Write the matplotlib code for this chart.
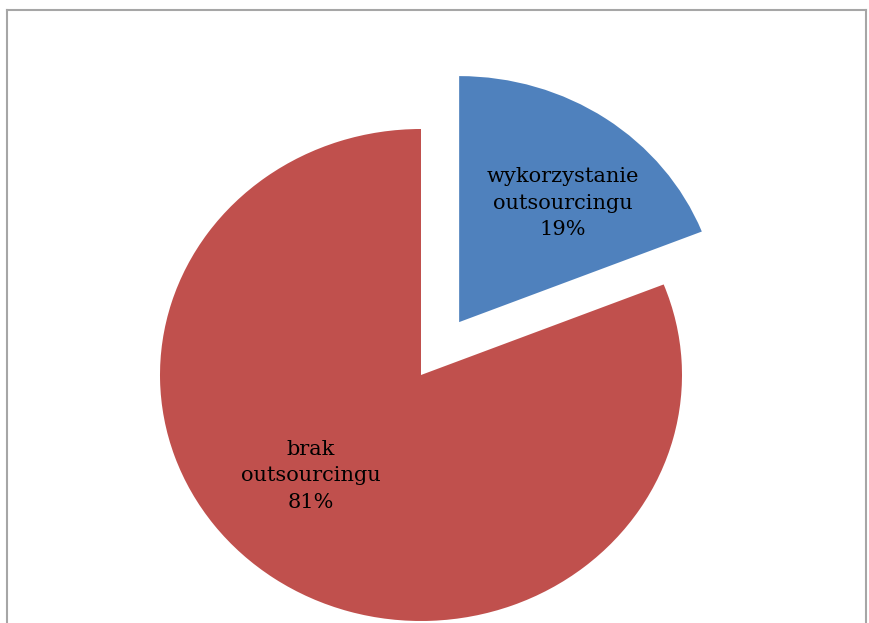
import matplotlib
matplotlib.use("Agg")
import matplotlib.pyplot as plt
from matplotlib.lines import Line2D

categories = ["wykorzystanie\noutsourcingu", "brak\noutsourcingu"]
shares = [19, 81]
colors = ["#4F81BD", "#C0504D"]
explode = [0.26, 0.0]

W, H = 869, 623
fig = plt.figure(figsize=(W / 100, H / 100), dpi=100)
ax = fig.add_axes([0, 0, 1, 1])

ax.pie(shares, colors=colors, explode=explode, startangle=90,
       counterclock=False, radius=1.0, frame=True,
       wedgeprops=dict(linewidth=0))
ax.set_axis_off()

# pixel scale of the (slightly stretched) pie
cx, cy = 421, 375
sx, sy = 261, 246
ax.set_aspect("auto")
ax.set_xlim(-cx / sx, (W - cx) / sx)
ax.set_ylim(-(H - cy) / sy, cy / sy)

label_pos = [(0.544, 0.699), (-0.421, -0.41)]
for name, val, (x, y) in zip(categories, shares, label_pos):
    ax.text(x, y, f"{name}\n{val}%", ha="center", va="center",
            fontsize=15, family="DejaVu Serif", linespacing=1.48,
            color="black")

# chart-area frame
frame_kw = dict(transform=fig.transFigure, color="#a6a6a6", linewidth=1.5)
x0, x1 = 7.5 / W, 866 / W
ytop = 1 - 10 / H
fig.add_artist(Line2D([x0, x1], [ytop, ytop], **frame_kw))
fig.add_artist(Line2D([x0, x0], [0, ytop], **frame_kw))
fig.add_artist(Line2D([x1, x1], [0, ytop], **frame_kw))

fig.savefig("out.png", dpi=100)
